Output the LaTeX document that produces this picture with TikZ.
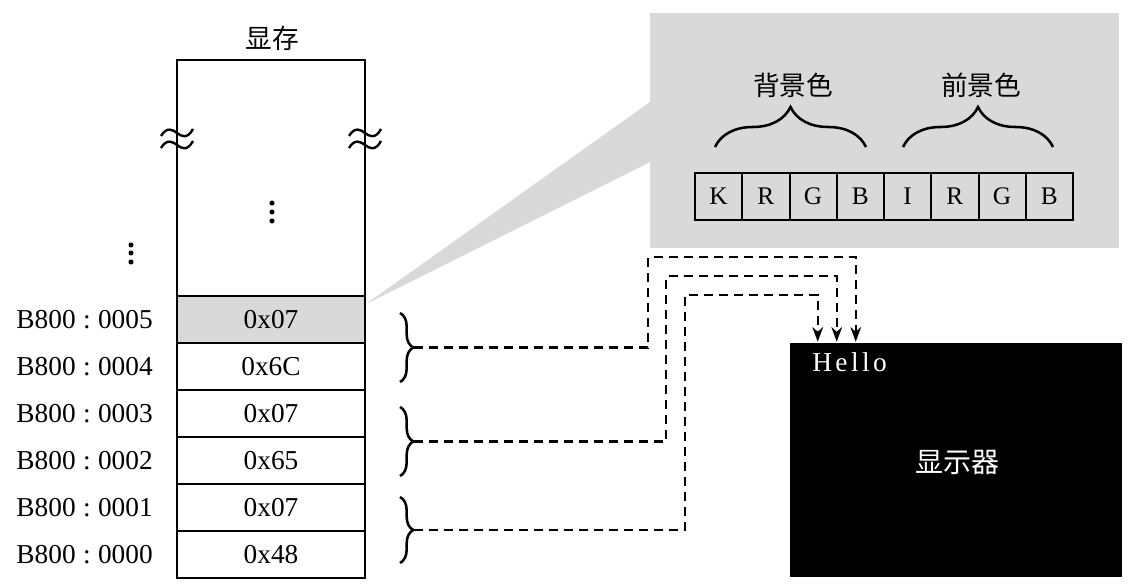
\documentclass[tikz,border=0pt]{standalone}
\usepackage{fontspec}
\setmainfont{Liberation Serif}
\newfontfamily\cjk{Noto Sans CJK SC}
\usetikzlibrary{arrows.meta,decorations.pathreplacing,calc}
\definecolor{pgray}{RGB}{217,217,217}
\begin{document}
\begin{tikzpicture}[x=0.75pt,y=-0.75pt,
  txt/.style={font=\fontsize{20.5}{24}\selectfont, inner sep=0},
  cjktxt/.style={font=\cjk\fontsize{20}{24}\selectfont, inner sep=0},
  cell/.style={draw, line width=1.5pt, minimum width=141pt, minimum height=35.25pt, inner sep=0, font=\fontsize{20.5}{24}\selectfont},
  bitcell/.style={draw, line width=1.5pt, minimum width=35.44pt, minimum height=35.25pt, inner sep=0, font=\fontsize{19}{22}\selectfont},
  conn/.style={line width=1.7pt, dash pattern=on 6.75pt off 4.5pt},
  arr/.style={-{Stealth[length=11pt,width=8pt]}},
  sbrace/.style={decorate, decoration={brace, amplitude=10pt}, line width=1.9pt},
  bbrace/.style={decorate, decoration={brace, amplitude=30pt}, line width=1.9pt},
  sqg/.pic={
    \draw[line width=1.8pt] (-16,0) .. controls (-10,-10) and (-4,-6) .. (0,-3) .. controls (4,0) and (10,4) .. (16,-7);
    \draw[line width=1.8pt] (-16,12) .. controls (-10,2) and (-4,6) .. (0,9) .. controls (4,12) and (10,16) .. (16,5);
  }
]
\useasboundingbox (0,0) rectangle (1143,585);

% gray panel and wedge
\fill[pgray] (366,304) -- (650,102) -- (650,162) -- cycle;
\fill[pgray] (650,13) rectangle (1119,248);

% memory block
\node[txt, font=\cjk\fontsize{20}{24}\selectfont] (title) at (272,38) {显存};
\draw[line width=1.5pt] (177,296) -- (177,60) -- (365,60) -- (365,296);
\pic at (177,136) {sqg};
\pic at (365,136) {sqg};
\fill (272,203) circle[radius=1.9pt] (272,212) circle[radius=1.9pt] (272,221) circle[radius=1.9pt];
\fill (131,245) circle[radius=1.9pt] (131,253) circle[radius=1.9pt] (131,262) circle[radius=1.9pt];

\node[cell, fill=pgray] (m5) at (271,319.5) {0x07};
\node[cell] (m4) at (271,366.5) {0x6C};
\node[cell] (m3) at (271,413.5) {0x07};
\node[cell] (m2) at (271,460.5) {0x65};
\node[cell] (m1) at (271,507.5) {0x07};
\node[cell] (m0) at (271,554.5) {0x48};

\foreach \i/\y in {5/319.5,4/366.5,3/413.5,2/460.5,1/507.5,0/554.5}{
  \node[txt, anchor=east] (a\i) at (153,\y) {B800\hspace{0.27em}:\hspace{0.27em}000\i};
}

% braces at the cells
\draw[sbrace] (400,313) -- (400,382);
\draw[sbrace] (400,407) -- (400,476);
\draw[sbrace] (400,497) -- (400,563);
\coordinate (b1) at (414,347.5);
\coordinate (b2) at (414,441.5);
\coordinate (b3) at (414,530);

% attribute byte
\foreach \l [count=\i from 0] in {K,R,G,B,I,R,G,B}{
  \node[bitcell] (bit\i) at ({695+47.25*(\i+0.5)},196.5) {\l};
}
\draw[bbrace] (715,147) -- (866,147);
\draw[bbrace] (903,147) -- (1053,147);
\node[cjktxt] (bg) at (793,85) {背景色};
\node[cjktxt] (fg) at (981,85) {前景色};

% screen
\node[fill=black, minimum width=249pt, minimum height=175.5pt, inner sep=0] (scr) at (956,460) {};
\node[txt, text=white, anchor=base west] (hello) at (812,371) {H\kern2.6pt e\kern2.6pt l\kern2.6pt l\kern2.6pt o};
\node[cjktxt, text=white, font=\cjk\fontsize{21}{24}\selectfont] (disp) at (957,462) {显示器};

\coordinate (t1) at ($(scr.north west)+(66,-1)$);
\coordinate (t2) at ($(scr.north west)+(47,-1)$);
\coordinate (t3) at ($(scr.north west)+(28,-1)$);

\draw[conn, arr] (b1) -| (648,257) -| (t1);
\draw[conn, arr] (b2) -| (666,276) -| (t2);
\draw[conn, arr] (b3) -| (685,295) -| (t3);
\end{tikzpicture}
\end{document}
